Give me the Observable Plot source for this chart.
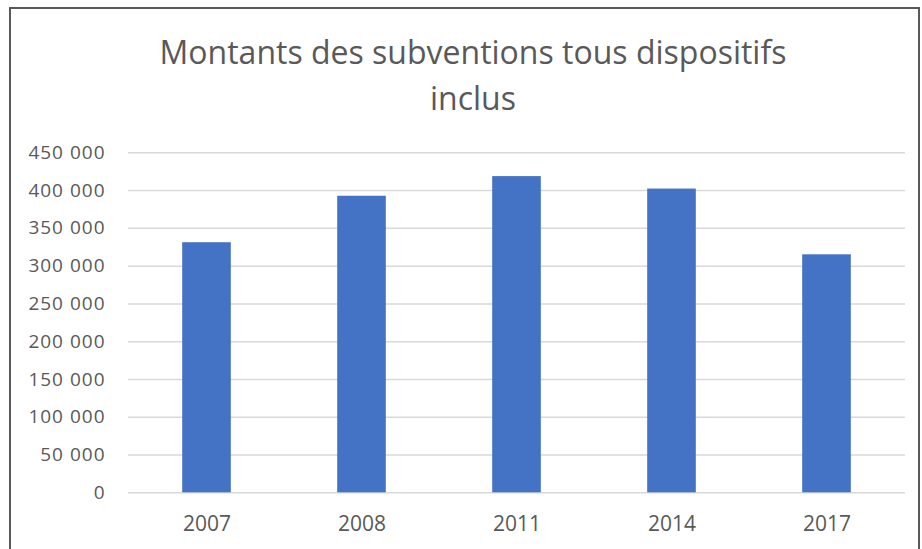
<!DOCTYPE html>
<html>
<head>
<meta charset="utf-8">
<script src="https://cdn.jsdelivr.net/npm/d3@7"></script>
<script src="https://cdn.jsdelivr.net/npm/@observablehq/plot@0.6"></script>
<style>
  html, body { margin: 0; padding: 0; background: #fff; }
  #wrap { position: relative; width: 922px; height: 549px; overflow: hidden; font-family: "Open Sans", sans-serif; }
  #frame { position: absolute; left: 9px; top: 7px; width: 911px; height: 600px; border: 2px solid #595959; box-sizing: border-box; }
  #title { position: absolute; left: 0; top: 28.6px; width: 946px; text-align: center; color: #595959; font-size: 32px; line-height: 46px; }
  #chart { position: absolute; left: 0; top: 0; }
  #chart g[aria-label="y-axis tick label"] text { letter-spacing: 1px; }
</style>
</head>
<body>
<div id="wrap">
  <div id="frame"></div>
  <div id="title">Montants des subventions tous dispositifs<br>inclus</div>
  <div id="chart"></div>
</div>
<script>
const years = ["2007", "2008", "2011", "2014", "2017"];
const values = [331000, 392500, 418500, 402000, 315000];
const yTicks = [0, 50000, 100000, 150000, 200000, 250000, 300000, 350000, 400000, 450000];

const data = years.map((y, i) => ({year: y, value: values[i]}));
const fmt = d3.formatLocale({thousands: " ", grouping: [3], decimal: ",", currency: ["", ""]}).format(",");

const chart = Plot.plot({
  width: 922,
  height: 549,
  marginTop: 152.3,
  marginBottom: 56.7,
  marginLeft: 128,
  marginRight: 17,
  style: {background: "transparent", fontFamily: "Open Sans, sans-serif", color: "#595959"},
  x: {domain: years, padding: 0, axis: null},
  y: {domain: [0, 450000], axis: null},
  marks: [
    Plot.ruleY(yTicks, {stroke: "#d9d9d9", strokeWidth: 1.5}),
    Plot.barY(data, {x: "year", y: "value", fill: "#4472C4", insetLeft: 53.2, insetRight: 53.2}),
    Plot.axisY(yTicks, {tickSize: 0, tickPadding: 23, tickFormat: fmt, fontSize: 19, fill: "#595959", label: null}),
    Plot.axisX({tickSize: 0, tickPadding: 23, fontSize: 21, fill: "#595959", label: null})
  ]
});
document.getElementById("chart").appendChild(chart);
</script>
</body>
</html>
